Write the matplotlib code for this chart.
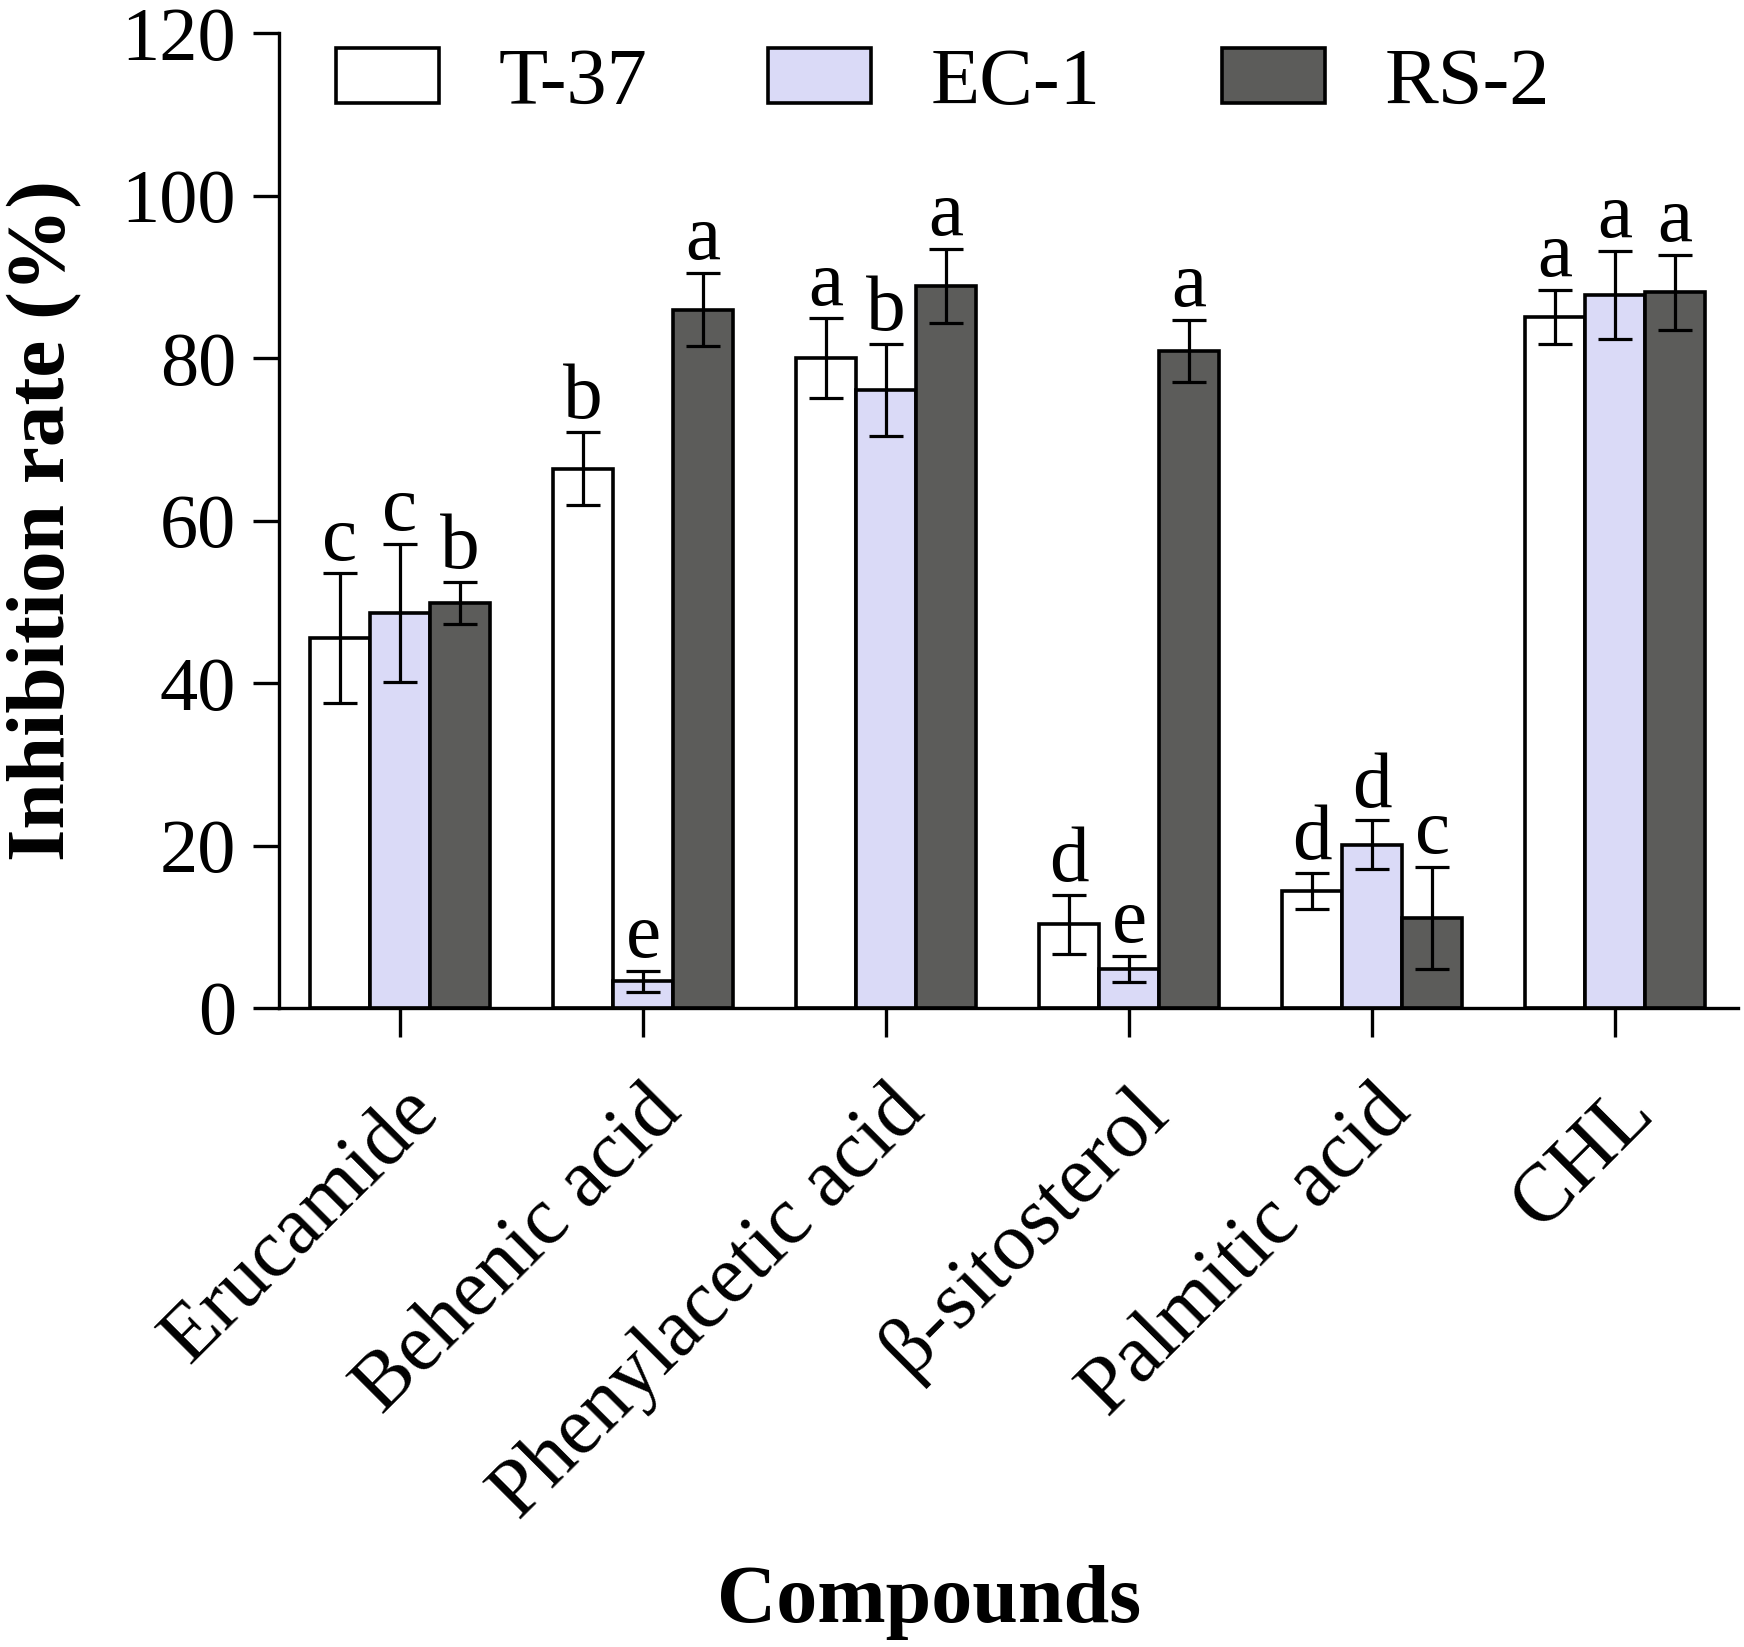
import numpy as np
import matplotlib
matplotlib.use("Agg")
import matplotlib.pyplot as plt

compounds = ["Erucamide", "Behenic acid", "Phenylacetic acid", "β-sitosterol", "Palmitic acid", "CHL"]
series = ["T-37", "EC-1", "RS-2"]

t37_mean = [45.5, 66.4, 80.0, 10.3, 14.4, 85.1]
t37_err = [8.0, 4.5, 4.9, 3.6, 2.2, 3.3]
ec1_mean = [48.6, 3.3, 76.1, 4.8, 20.1, 87.8]
ec1_err = [8.5, 1.3, 5.7, 1.6, 3.0, 5.4]
rs2_mean = [49.9, 86.0, 88.9, 80.9, 11.1, 88.1]
rs2_err = [2.6, 4.5, 4.6, 3.8, 6.3, 4.6]

t37_sig = ["c", "b", "a", "d", "d", "a"]
ec1_sig = ["c", "e", "b", "e", "d", "a"]
rs2_sig = ["b", "a", "a", "a", "c", "a"]

colors = ["#ffffff", "#dadaf7", "#5c5c5a"]

plt.rcParams["font.family"] = ["Liberation Serif", "DejaVu Serif"]

fig = plt.figure(figsize=(17.44, 16.47), dpi=100)
ax = fig.add_axes([0.16, 0.388, 0.8366, 0.5917])

x = np.arange(len(compounds))
w = 0.247
means = [t37_mean, ec1_mean, rs2_mean]
errs = [t37_err, ec1_err, rs2_err]
sigs = [t37_sig, ec1_sig, rs2_sig]

for i, name in enumerate(series):
    pos = x + (i - 1) * w
    ax.bar(pos, means[i], width=w, color=colors[i], edgecolor="black",
           linewidth=2.6, label=name, zorder=2)
    ax.errorbar(pos, means[i], yerr=errs[i], fmt="none", ecolor="black",
                elinewidth=2.3, capsize=12, capthick=2.3, zorder=3)
    for p, m, e, s in zip(pos, means[i], errs[i], sigs[i]):
        ax.text(p, m + e - 0.4, s, ha="center", va="bottom", fontsize=57)

ax.set_ylim(0, 120)
ax.set_xlim(-0.498, 5.506)
ax.set_yticks(range(0, 121, 20))
ax.set_xticks(x)
ax.set_xticklabels(compounds, rotation=45, ha="right", rotation_mode="anchor")

for side in ["top", "right"]:
    ax.spines[side].set_visible(False)
for side in ["left", "bottom"]:
    ax.spines[side].set_linewidth(2.4)

ax.tick_params(axis="y", direction="out", length=19, width=2.4, labelsize=55, pad=12)
ax.tick_params(axis="x", direction="out", length=21, width=2.4, labelsize=59, pad=26)

ax.set_ylabel("Inhibition rate (%)", fontsize=60, fontweight="bold", labelpad=28)
ax.set_xlabel("Compounds", fontsize=59, fontweight="bold", va="top")
ax.xaxis.set_label_coords(0.4455, -0.572)

ax.legend(loc="center left", bbox_to_anchor=(0.039, 0.948), ncol=3, frameon=False,
          fontsize=58, handlelength=1.28, handleheight=0.67, handletextpad=0.74,
          columnspacing=1.5, borderpad=0, borderaxespad=0)

fig.savefig("out.png", dpi=100)
